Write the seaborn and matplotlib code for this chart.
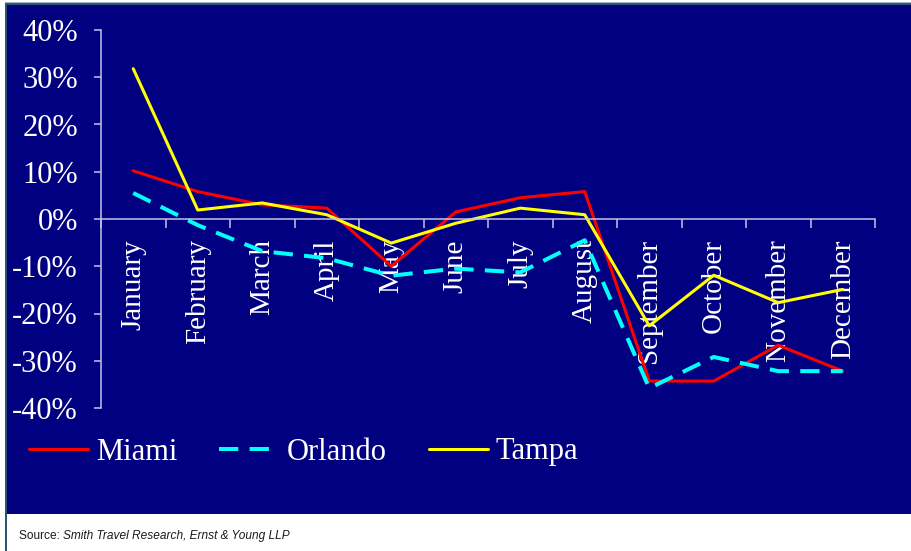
import matplotlib
matplotlib.use("Agg")
import matplotlib.pyplot as plt
import numpy as np
import pandas as pd
import seaborn as sns
from matplotlib.patches import Rectangle
from matplotlib.ticker import FixedLocator, FixedFormatter

# Monthly change in hotel performance, 2001 vs 2000
months = ["January", "February", "March", "April", "May", "June",
          "July", "August", "September", "October", "November", "December"]
miami = [10.2, 5.8, 3.0, 2.3, -10.0, 1.5, 4.5, 5.8, -34.3, -34.3, -26.7, -32.2]
orlando = [5.5, -1.3, -6.8, -8.3, -12.0, -10.5, -11.3, -4.5, -35.8, -29.2, -32.2, -32.2]
tampa = [31.8, 1.9, 3.4, 0.9, -5.1, -0.9, 2.3, 0.9, -22.6, -11.9, -17.7, -14.9]
cities = ["Miami", "Orlando", "Tampa"]
y_ticks = [-40, -30, -20, -10, 0, 10, 20, 30, 40]
y_labels = [f"{v}%" for v in y_ticks]
source_lead = "Source: "
source_rest = "Smith Travel Research, Ernst & Young LLP"

NAVY = "#000080"
AXIS = "#c4c4e4"
W, H = 912, 551

sns.set_theme(style="white")
plt.rcParams["font.family"] = ["Liberation Serif", "DejaVu Serif"]

df = pd.DataFrame({
    "pos": list(range(len(months))) * 3,
    "value": miami + orlando + tampa,
    "city": [c for c in cities for _ in months],
})

fig = plt.figure(figsize=(W / 100, H / 100), dpi=100, facecolor="white")

# navy panel with its thin frame, kept behind the axes
def panel(x0, y0, x1, y1, color):
    fig.patches.append(Rectangle((x0 / W, 1 - y1 / H), (x1 - x0) / W, (y1 - y0) / H,
                                 transform=fig.transFigure, facecolor=color,
                                 edgecolor="none", zorder=-5))

panel(7, 5, W, 514, NAVY)
panel(5, 3, 7, H, "#2a5676")
panel(5, 3, W, 5, "#2a5676")
panel(5, 2, W, 3, "#a9b8c6")

ax = fig.add_axes([101 / W, 1 - 408 / H, (875 - 101) / W, (408 - 30) / H])
ax.set_facecolor("none")

palette = {"Miami": "#ff0000", "Orlando": "#00ffff", "Tampa": "#ffff00"}
dashes = {"Miami": "", "Orlando": (4.8, 2.8), "Tampa": ""}
widths = {"Miami": 2.2, "Orlando": 2.9, "Tampa": 2.2}

sns.lineplot(data=df, x="pos", y="value", hue="city", style="city", size="city",
             palette=palette, dashes=dashes, sizes=widths, hue_order=cities,
             style_order=cities, size_order=cities, ax=ax)

ax.set_xlim(-0.5, len(months) - 0.5)
ax.set_ylim(y_ticks[0], y_ticks[-1])
ax.set_xlabel("")
ax.set_ylabel("")

for side in ("top", "right"):
    ax.spines[side].set_visible(False)
ax.spines["bottom"].set_position(("data", 0))
for side in ("left", "bottom"):
    ax.spines[side].set_color(AXIS)
    ax.spines[side].set_linewidth(1.1)

ax.yaxis.set_major_locator(FixedLocator(y_ticks))
ax.yaxis.set_major_formatter(FixedFormatter(y_labels))
ax.xaxis.set_major_locator(FixedLocator(range(len(months))))
ax.xaxis.set_major_formatter(FixedFormatter(months))
ax.xaxis.set_minor_locator(FixedLocator(np.arange(len(months) + 1) - 0.5))

ax.tick_params(axis="y", which="major", left=True, direction="out", length=5,
               width=1.1, color=AXIS, pad=11.5, labelsize=22, labelcolor="white")
ax.tick_params(axis="x", which="major", bottom=True, length=0, pad=14.5,
               labelsize=21, labelcolor="white", labelrotation=90)
ax.tick_params(axis="x", which="minor", bottom=True, direction="out", length=6.5,
               width=1.1, color=AXIS)

sns.move_legend(ax, "center left", bbox_to_anchor=(29 / W, 1 - 452 / H),
                bbox_transform=fig.transFigure, ncol=3, title=None, frameon=False,
                fontsize=22, labelcolor="white", handlelength=1.93,
                handletextpad=0.27, columnspacing=1.37, borderpad=0,
                borderaxespad=0)

src_font = ["Liberation Sans", "DejaVu Sans"]
t1 = fig.text(19 / W, 1 - 536 / H, source_lead, fontsize=8.6, family=src_font,
              color="#1a1a1a", va="center", ha="left")
ax.annotate(source_rest, xy=(1, 0.5), xycoords=t1, va="center", ha="left",
            fontsize=8.6, family=src_font, style="italic", color="#1a1a1a",
            annotation_clip=False)

fig.savefig("out.png", dpi=100, facecolor="white")
